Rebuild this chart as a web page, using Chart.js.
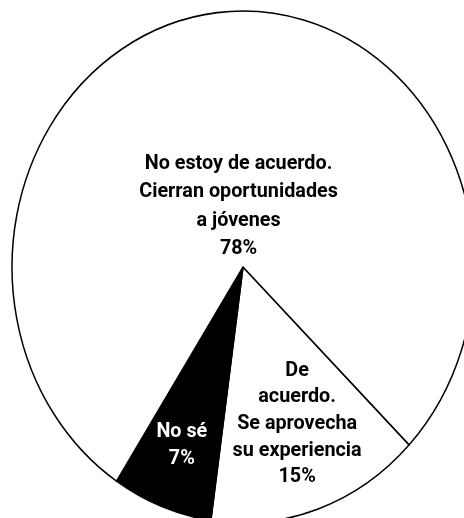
<!DOCTYPE html>
<html>
<head>
<meta charset="utf-8">
<script src="https://cdn.jsdelivr.net/npm/chart.js@4.4.1/dist/chart.umd.min.js"></script>
<style>
  html, body { margin: 0; padding: 0; background: #fff; overflow: hidden; }
  #wrap { position: relative; width: 464px; height: 518px; }
</style>
</head>
<body>
<div id="wrap"><canvas id="c" width="464" height="518"></canvas></div>
<script>
// Data
const categories = ['De acuerdo. Se aprovecha su experiencia', 'No sé', 'No estoy de acuerdo. Cierran oportunidades a jóvenes'];
const values = [15, 7, 78];
const labelLines = [
  ['De', 'acuerdo.', 'Se aprovecha', 'su experiencia'],
  ['No sé'],
  ['No estoy de acuerdo.', 'Cierran oportunidades', 'a jóvenes']
];
const fills = ['#ffffff', '#000000', '#ffffff'];
const textColors = ['#000000', '#ffffff', '#000000'];

// Layout
const Y_SCALE = 1.108;
const TEXT_Y_SCALE = 1.05;
const labelRadiusFactor = [0.64, 0.74, 0.25];
const labelNudge = [[6, 2], [-1, 1], [2, 3]];
const LINE_H = [26.6, 27, 28.3];
const FONT = '700 19.8px Roboto';

const ellipsePlugin = {
  id: 'ellipse',
  beforeDatasetsDraw(chart) {
    const arc = chart.getDatasetMeta(0).data[0];
    const ctx = chart.ctx;
    ctx.save();
    ctx.translate(arc.x, arc.y);
    ctx.scale(1, Y_SCALE);
    ctx.translate(-arc.x, -arc.y);
  },
  afterDatasetsDraw(chart) {
    chart.ctx.restore();
  }
};

const labelPlugin = {
  id: 'sliceLabels',
  afterDraw(chart) {
    const ctx = chart.ctx;
    const meta = chart.getDatasetMeta(0);
    meta.data.forEach((arc, i) => {
      const mid = (arc.startAngle + arc.endAngle) / 2;
      const r = arc.outerRadius * labelRadiusFactor[i];
      const cx = arc.x + Math.cos(mid) * r + labelNudge[i][0];
      const cy = arc.y + Math.sin(mid) * r * Y_SCALE + labelNudge[i][1];
      const lines = labelLines[i].concat([values[i] + '%']);
      const total = (lines.length - 1) * LINE_H[i];
      ctx.save();
      ctx.fillStyle = textColors[i];
      ctx.textAlign = 'center';
      ctx.textBaseline = 'middle';
      ctx.font = FONT;
      lines.forEach((ln, k) => {
        const y = cy - total / 2 + k * LINE_H[i];
        ctx.save();
        ctx.translate(cx, y);
        ctx.scale(1, TEXT_Y_SCALE);
        ctx.fillText(ln, 0, 0);
        ctx.restore();
      });
      ctx.restore();
    });
  }
};

new Chart(document.getElementById('c'), {
  type: 'pie',
  data: {
    labels: categories,
    datasets: [{
      data: values,
      backgroundColor: fills,
      borderColor: '#000000',
      borderWidth: 1.5,
      borderJoinStyle: 'miter',
      clip: false
    }]
  },
  options: {
    responsive: false,
    animation: false,
    rotation: 134,
    radius: 231,
    layout: { padding: { left: 22, right: 0, top: 16, bottom: 0 } },
    plugins: {
      legend: { display: false },
      tooltip: { enabled: false }
    }
  },
  plugins: [ellipsePlugin, labelPlugin]
});
</script>
</body>
</html>
